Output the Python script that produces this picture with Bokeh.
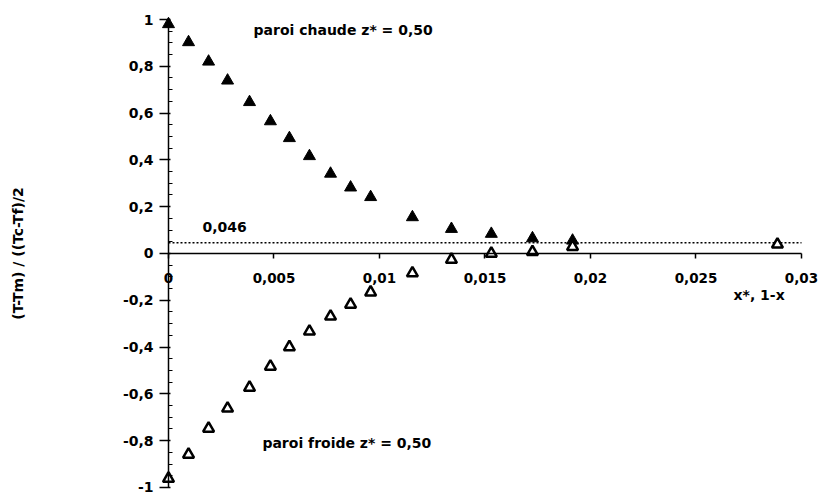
import numpy as np
from bokeh.plotting import figure
from bokeh.models import Range1d, LinearAxis, FixedTicker, Label
from bokeh.embed import file_html
from bokeh.resources import INLINE

# Dimensionless positions from the wall (x* for the hot wall, 1-x for the cold wall)
x_pos = [0, 0.00095, 0.0019, 0.0028, 0.00384, 0.00483, 0.00573, 0.00668,
         0.00768, 0.00863, 0.00958, 0.01156, 0.01341, 0.0153, 0.01725,
         0.01915, 0.02886]

# Reduced temperature (T-Tm) / ((Tc-Tf)/2) at mid-height z* = 0,50
hot_wall = [0.98, 0.903, 0.82, 0.739, 0.647, 0.565, 0.493, 0.416, 0.341,
            0.282, 0.241, 0.155, 0.105, 0.084, 0.065, 0.055]
cold_wall = [-0.962, -0.859, -0.748, -0.662, -0.573, -0.483, -0.40, -0.333,
             -0.269, -0.218, -0.166, -0.084, -0.026, 0.0, 0.007, 0.029, 0.039]

# Core temperature level
core_level = 0.046
core_label = "0,046"

x_ticks = [0, 0.005, 0.01, 0.015, 0.02, 0.025, 0.03]
x_tick_labels = ["0", "0,005", "0,01", "0,015", "0,02", "0,025", "0,03"]
y_ticks = [-1, -0.8, -0.6, -0.4, -0.2, 0, 0.2, 0.4, 0.6, 0.8, 1]
y_tick_labels = ["-1", "-0,8", "-0,6", "-0,4", "-0,2", "0", "0,2", "0,4",
                 "0,6", "0,8", "1"]

FONT = "DejaVu Sans"

# The frame spans the whole canvas; axes cross at the origin inside it
p = figure(width=823, height=496, output_backend="svg", toolbar_location=None,
           x_range=Range1d(-0.007962, 0.031043),
           y_range=Range1d(-1.0385, 1.0812),
           x_axis_location=None, y_axis_location=None,
           min_border=0)
p.outline_line_color = None
p.xgrid.visible = False
p.ygrid.visible = False
p.background_fill_color = "white"
p.border_fill_color = "white"

xaxis = LinearAxis(fixed_location=0, bounds=(x_ticks[0], x_ticks[-1]),
                   ticker=FixedTicker(ticks=x_ticks))
xaxis.major_label_overrides = dict(zip(x_ticks, x_tick_labels))
minor_y = [t for t in np.round(np.arange(-1, 1.0001, 0.05), 2).tolist()
           if t not in y_ticks]
yaxis = LinearAxis(fixed_location=0, bounds=(y_ticks[0], y_ticks[-1]),
                   ticker=FixedTicker(ticks=y_ticks, minor_ticks=minor_y))
yaxis.major_label_overrides = dict(zip(y_ticks, y_tick_labels))

for ax in (xaxis, yaxis):
    ax.axis_line_color = "black"
    ax.axis_line_width = 1.5
    ax.major_tick_line_color = "black"
    ax.major_tick_line_width = 1.5
    ax.minor_tick_line_color = "black"
    ax.minor_tick_line_width = 1
    ax.major_label_text_font = FONT
    ax.major_label_text_font_style = "bold"
    ax.major_label_text_color = "black"

xaxis.major_label_text_font_size = "13.5px"
xaxis.major_tick_in = 0
xaxis.major_tick_out = 5
xaxis.minor_tick_in = 0
xaxis.minor_tick_out = 0
xaxis.major_label_standoff = 15
yaxis.major_label_text_font_size = "14px"
yaxis.major_tick_in = 2
yaxis.major_tick_out = 9
yaxis.minor_tick_in = 4
yaxis.minor_tick_out = 0
yaxis.major_label_standoff = 6

p.add_layout(xaxis, "below")
p.add_layout(yaxis, "left")

# Dotted core level
p.line(x=[x_ticks[0], x_ticks[-1]], y=[core_level, core_level],
       line_color="black", line_width=1.3, line_dash="2 2")

# Measurements
p.scatter(x=x_pos[:len(hot_wall)], y=hot_wall, marker="triangle", size=12,
          fill_color="black", line_color="black", line_width=1)
p.scatter(x=x_pos[:len(cold_wall)], y=cold_wall, marker="triangle", size=11,
          fill_color="white", line_color="black", line_width=2.5)

def note(text, x, y, **kw):
    p.add_layout(Label(x=x, y=y, text=text, text_font=FONT,
                       text_font_style="bold", text_font_size="14px",
                       text_color="black", text_baseline="middle", **kw))

note("paroi chaude z* = 0,50", 0.00403, 0.953)
note("paroi froide z* = 0,50", 0.00445, -0.808)
note(core_label, 0.00161, 0.115)
note("x*, 1-x", 0.02678, -0.179)
note("(T-Tm) / ((Tc-Tf)/2", -0.00711, 0.0, angle=np.pi / 2,
     text_align="center")

open("out.html", "w").write(file_html(p, INLINE))
